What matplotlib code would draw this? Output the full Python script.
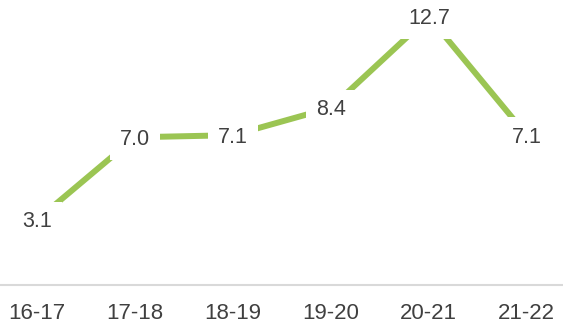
import matplotlib.pyplot as plt

seasons = ["16-17", "17-18", "18-19", "19-20", "20-21", "21-22"]
values = [3.1, 7.0, 7.1, 8.4, 12.7, 7.1]

plt.rcParams['font.family'] = ['Liberation Sans', 'DejaVu Sans']

fig = plt.figure(figsize=(5.63, 3.24), dpi=100)
ax = fig.add_axes([0, 0.12, 1, 0.88])

x = range(len(seasons))
ax.plot(x, values, color='#9bc553', linewidth=4.3, solid_capstyle='butt', zorder=2)

# value labels sit on the line, white box hides the line behind them
for xi, v in zip(x, values):
    ax.annotate(f"{v:.1f}", (xi, v), xytext=(0, -1.5), textcoords='offset points',
                ha='center', va='center', fontsize=15.5, color='#404040',
                bbox=dict(boxstyle='square,pad=0.45', fc='white', ec='none'), zorder=3)

ax.set_xlim(-0.38, 5.37)
ax.set_ylim(0, 13.5)
ax.set_xticks(list(x))
ax.set_xticklabels(seasons, fontsize=16, color='#404040')
ax.tick_params(axis='x', length=0, pad=13)
ax.set_yticks([])
for side in ['top', 'right', 'left']:
    ax.spines[side].set_visible(False)
ax.spines['bottom'].set_color('#d9d9d9')
ax.spines['bottom'].set_linewidth(1.5)

fig.savefig('out.png', dpi=100)
